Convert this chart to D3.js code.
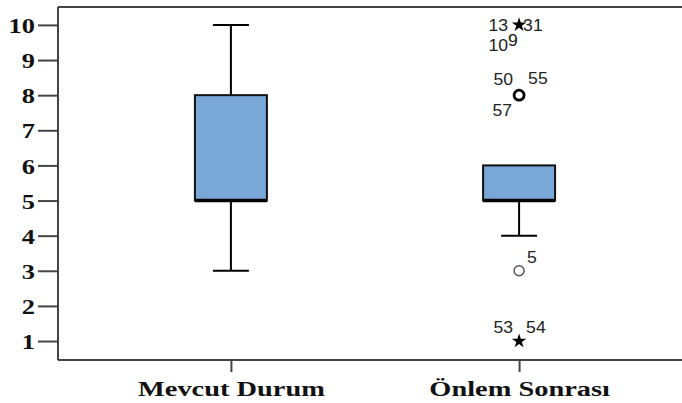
<!DOCTYPE html>
<html>
<head>
<meta charset="utf-8">
<script src="https://cdn.jsdelivr.net/npm/d3@7"></script>
<style>
  body { margin: 0; background: #fff; }
  svg { display: block; }
  .tick-label { font-family: "Liberation Serif", "Times New Roman", serif; font-weight: bold; fill: #111; }
  .case-label { font-family: "Liberation Sans", Arial, sans-serif; fill: #222; }
</style>
</head>
<body>
<div id="chart"></div>
<script>
// data
const groups = ["Mevcut Durum", "Önlem Sonrası"];
const lowWhisker = [3, 4];
const q1 = [5, 5];
const median = [5, 5];
const q3 = [8, 6];
const highWhisker = [10, 6];
const yTicks = [1, 2, 3, 4, 5, 6, 7, 8, 9, 10];

// outliers of "Önlem Sonrası": value, kind, case numbers
const outlierValues = [10, 8, 3, 1];
const outlierKinds = ["extreme", "outlier", "outlier", "extreme"];
const outlierCases = [["13", "31", "10", "9"], ["50", "55", "57"], ["5"], ["53", "54"]];

// where each case number sits around its point (layout, not data)
const caseOffsets = {
  "13": [-11, 0, "end"], "31": [4, 0, "start"], "10": [-11, 20, "end"], "9": [-11, 15, "start"],
  "50": [-6, -16, "end"], "55": [9, -17, "start"], "57": [-7, 15, "end"],
  "5": [8, -13, "start"],
  "53": [-6, -14, "end"], "54": [7, -14, "start"]
};

const W = 682, H = 403;
const margin = {left: 58, top: 7, bottom: 360};

const svg = d3.select("#chart").append("svg")
  .attr("width", W).attr("height", H);

const x = d3.scalePoint().domain(groups).range([margin.left, 692]).padding(0.6);
const y = d3.scaleLinear().domain([0.46, 10.51]).range([margin.bottom, margin.top]);
const boxW = 72;

// stretch text horizontally like the source
function stretch(sel, k) {
  sel.each(function() {
    const len = this.getComputedTextLength();
    d3.select(this).attr("textLength", len * k).attr("lengthAdjust", "spacingAndGlyphs");
  });
}

// frame line on top
svg.append("line").attr("x1", margin.left).attr("x2", W)
  .attr("y1", margin.top).attr("y2", margin.top)
  .attr("stroke", "#444").attr("stroke-width", 2);

// y axis
const yAxis = svg.append("g")
  .attr("transform", `translate(${margin.left},0)`)
  .call(d3.axisLeft(y).tickValues(yTicks).tickSize(20).tickPadding(3).tickSizeOuter(0));
yAxis.select(".domain").attr("stroke", "#444").attr("stroke-width", 2)
  .attr("d", `M0,${margin.top}V${margin.bottom}`);
yAxis.selectAll(".tick line").attr("stroke", "#444").attr("stroke-width", 2);
yAxis.selectAll(".tick text").attr("class", "tick-label").attr("font-size", 22)
  .attr("dy", "0.35em").call(stretch, 1.2);

// x axis
const xAxis = svg.append("g")
  .attr("transform", `translate(0,${margin.bottom})`)
  .call(d3.axisBottom(x).tickSize(12).tickPadding(8).tickSizeOuter(0));
xAxis.select(".domain").attr("stroke", "#444").attr("stroke-width", 2)
  .attr("d", `M${margin.left},0H${W}`);
xAxis.selectAll(".tick line").attr("stroke", "#444").attr("stroke-width", 2);
xAxis.selectAll(".tick text").attr("class", "tick-label").attr("font-size", 22)
  .attr("dy", "0.72em").call(stretch, 1.29);

// boxes
const stats = groups.map((g, i) => ({
  g, lo: lowWhisker[i], q1: q1[i], med: median[i], q3: q3[i], hi: highWhisker[i]
}));

const box = svg.selectAll(".box").data(stats).join("g").attr("class", "box");

box.append("line")
  .attr("x1", d => x(d.g)).attr("x2", d => x(d.g))
  .attr("y1", d => y(d.lo)).attr("y2", d => y(d.q1))
  .attr("stroke", "#000").attr("stroke-width", 2);
box.append("line")
  .attr("x1", d => x(d.g)).attr("x2", d => x(d.g))
  .attr("y1", d => y(d.q3)).attr("y2", d => y(d.hi))
  .attr("stroke", "#000").attr("stroke-width", 2);
box.filter(d => d.lo < d.q1).append("line")
  .attr("x1", d => x(d.g) - boxW / 4).attr("x2", d => x(d.g) + boxW / 4)
  .attr("y1", d => y(d.lo)).attr("y2", d => y(d.lo))
  .attr("stroke", "#000").attr("stroke-width", 2);
box.filter(d => d.hi > d.q3).append("line")
  .attr("x1", d => x(d.g) - boxW / 4).attr("x2", d => x(d.g) + boxW / 4)
  .attr("y1", d => y(d.hi)).attr("y2", d => y(d.hi))
  .attr("stroke", "#000").attr("stroke-width", 2);

box.append("rect")
  .attr("x", d => x(d.g) - boxW / 2).attr("width", boxW)
  .attr("y", d => y(d.q3)).attr("height", d => y(d.q1) - y(d.q3))
  .attr("fill", "#79a8d8").attr("stroke", "#111").attr("stroke-width", 2);
box.append("line")
  .attr("x1", d => x(d.g) - boxW / 2).attr("x2", d => x(d.g) + boxW / 2)
  .attr("y1", d => y(d.med)).attr("y2", d => y(d.med))
  .attr("stroke", "#000").attr("stroke-width", 3.5);

// outliers
const outliers = outlierValues.map((v, i) => ({
  g: groups[1], v, kind: outlierKinds[i], cases: outlierCases[i]
}));

const pts = svg.selectAll(".outlier").data(outliers).join("g")
  .attr("class", "outlier")
  .attr("transform", d => `translate(${x(d.g)},${y(d.v)})`);

pts.filter(d => d.kind === "extreme").append("path")
  .attr("d", d3.symbol(d3.symbolStar, 65))
  .attr("fill", "#000");
pts.filter(d => d.kind === "outlier").append("circle")
  .attr("r", 5)
  .attr("fill", "#fff")
  .attr("stroke", d => d.cases.length > 1 ? "#000" : "#555")
  .attr("stroke-width", d => d.cases.length > 1 ? 2.8 : 1.5);

pts.selectAll("text").data(d => d.cases).join("text")
  .attr("class", "case-label")
  .attr("font-size", 16)
  .attr("x", c => caseOffsets[c][0])
  .attr("y", c => caseOffsets[c][1])
  .attr("dy", "0.35em")
  .attr("text-anchor", c => caseOffsets[c][2])
  .text(c => c)
  .call(stretch, 1.1);
</script>
</body>
</html>
